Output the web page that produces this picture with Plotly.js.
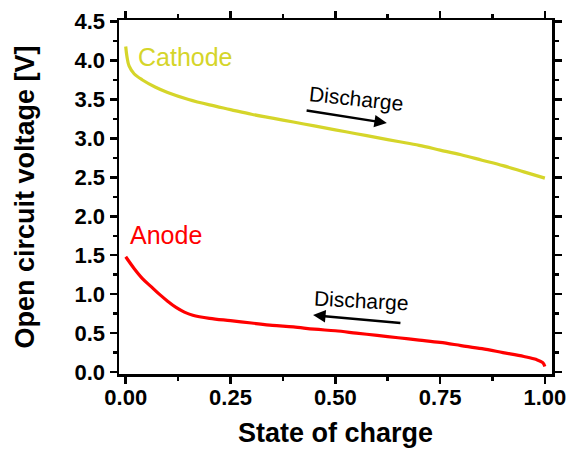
<!DOCTYPE html>
<html>
<head>
<meta charset="utf-8">
<script src="https://cdn.plot.ly/plotly-3.0.1.min.js"></script>
<style>html,body{margin:0;padding:0;background:#fff;}#chart{width:568px;height:451px;}</style>
</head>
<body>
<div id="chart"></div>
<script>
const cathodeSoc = [0, 0.003, 0.008, 0.02, 0.04, 0.07, 0.1, 0.15, 0.2, 0.25, 0.3, 0.35, 0.4, 0.45, 0.5, 0.55, 0.6, 0.65, 0.7, 0.75, 0.8, 0.85, 0.9, 0.95, 1.0];
const cathodeV = [4.18, 4.05, 3.93, 3.83, 3.75, 3.66, 3.59, 3.50, 3.43, 3.37, 3.31, 3.26, 3.21, 3.16, 3.11, 3.06, 3.01, 2.96, 2.91, 2.85, 2.79, 2.72, 2.65, 2.57, 2.49];
const anodeSoc = [0, 0.02, 0.04, 0.06, 0.08, 0.1, 0.12, 0.14, 0.16, 0.2, 0.25, 0.3, 0.35, 0.4, 0.45, 0.5, 0.55, 0.6, 0.65, 0.7, 0.75, 0.8, 0.85, 0.9, 0.95, 0.98, 0.995, 1.0];
const anodeV = [1.48, 1.33, 1.2, 1.1, 1.0, 0.91, 0.83, 0.77, 0.73, 0.69, 0.66, 0.63, 0.6, 0.58, 0.55, 0.53, 0.5, 0.47, 0.44, 0.41, 0.38, 0.34, 0.3, 0.25, 0.2, 0.16, 0.12, 0.07];
const xTickVals = [0, 0.25, 0.5, 0.75, 1.0];
const xTickText = ['0.00', '0.25', '0.50', '0.75', '1.00'];
const yTickVals = [0, 0.5, 1.0, 1.5, 2.0, 2.5, 3.0, 3.5, 4.0, 4.5];
const yTickText = ['0.0', '0.5', '1.0', '1.5', '2.0', '2.5', '3.0', '3.5', '4.0', '4.5'];

const cathodeColor = '#d5d52a';
const anodeColor = '#ff0000';

const traces = [
  {x: cathodeSoc, y: cathodeV, mode: 'lines', line: {color: cathodeColor, width: 3.2, shape: 'spline'}, hoverinfo: 'skip'},
  {x: anodeSoc, y: anodeV, mode: 'lines', line: {color: anodeColor, width: 3.2, shape: 'spline'}, hoverinfo: 'skip'}
];

const axisCommon = {
  showgrid: false, zeroline: false, showline: true, linecolor: '#000', linewidth: 2.5,
  mirror: 'ticks', ticks: 'outside', ticklen: 7, tickwidth: 2.5, tickcolor: '#000',
  tickfont: {family: 'Arial, Liberation Sans, sans-serif', size: 22, color: '#000', weight: 'bold'},
  tickmode: 'array'
};

const layout = {
  width: 568, height: 451,
  margin: {l: 119, r: 16, t: 20, b: 77},
  paper_bgcolor: '#fff', plot_bgcolor: '#fff',
  showlegend: false,
  xaxis: Object.assign({}, axisCommon, {
    range: [-0.016, 1.017], tickvals: xTickVals, ticktext: xTickText, ticklabelstandoff: -5,
    minor: {tickvals: [0.125, 0.375, 0.625, 0.875], ticks: 'outside', ticklen: 4, tickwidth: 2.5, tickcolor: '#000'},
    title: {text: '<b>State of charge</b>', font: {family: 'Arial, Liberation Sans, sans-serif', size: 27, color: '#000'}, standoff: 14}
  }),
  yaxis: Object.assign({}, axisCommon, {
    range: [-0.025, 4.52], tickvals: yTickVals, ticktext: yTickText,
    minor: {tickvals: [0.25, 0.75, 1.25, 1.75, 2.25, 2.75, 3.25, 3.75, 4.25], ticks: 'outside', ticklen: 4, tickwidth: 2.5, tickcolor: '#000'},
    title: {text: '<b>Open circuit voltage [V]</b>', font: {family: 'Arial, Liberation Sans, sans-serif', size: 27, color: '#000'}, standoff: 32}
  }),
  annotations: [
    {x: 0.025, y: 4.04, xref: 'x', yref: 'y', text: 'Cathode', showarrow: false, xanchor: 'left', yanchor: 'middle',
     font: {family: 'Arial, Liberation Sans, sans-serif', size: 25, color: cathodeColor}},
    {x: 0.006, y: 1.76, xref: 'x', yref: 'y', text: 'Anode', showarrow: false, xanchor: 'left', yanchor: 'middle',
     font: {family: 'Arial, Liberation Sans, sans-serif', size: 25, color: anodeColor}},
    {x: 0.551, y: 3.51, xref: 'x', yref: 'y', text: 'Discharge', showarrow: false, textangle: 6,
     font: {family: 'Arial, Liberation Sans, sans-serif', size: 21, color: '#000'}},
    {x: 0.623, y: 3.196, ax: 0.428, ay: 3.36, xref: 'x', yref: 'y', axref: 'x', ayref: 'y', text: '', showarrow: true,
     arrowhead: 2, arrowsize: 1, arrowwidth: 2.5, arrowcolor: '#000'},
    {x: 0.563, y: 0.92, xref: 'x', yref: 'y', text: 'Discharge', showarrow: false, textangle: 3,
     font: {family: 'Arial, Liberation Sans, sans-serif', size: 21, color: '#000'}},
    {x: 0.447, y: 0.731, ax: 0.659, ay: 0.628, xref: 'x', yref: 'y', axref: 'x', ayref: 'y', text: '', showarrow: true,
     arrowhead: 2, arrowsize: 1, arrowwidth: 2.5, arrowcolor: '#000'}
  ]
};

Plotly.newPlot('chart', traces, layout, {displayModeBar: false, staticPlot: true});
</script>
</body>
</html>
